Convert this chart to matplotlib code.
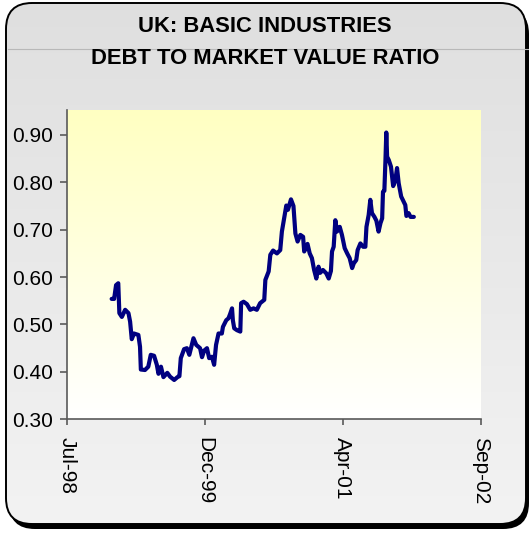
import datetime as dt
import numpy as np
import matplotlib
matplotlib.use("Agg")
import matplotlib.pyplot as plt
import matplotlib.dates as mdates
from matplotlib.patches import FancyBboxPatch
from matplotlib.lines import Line2D

# ---- data -------------------------------------------------------------
title_lines = ["UK: BASIC INDUSTRIES", "DEBT TO MARKET VALUE RATIO"]

obs_dates = [
    "1999-01-02", "1999-01-11", "1999-01-18", "1999-01-26", "1999-01-30",
    "1999-02-08", "1999-02-20", "1999-03-04", "1999-03-10", "1999-03-16",
    "1999-03-24", "1999-04-09", "1999-04-15", "1999-04-18", "1999-05-03",
    "1999-05-15", "1999-05-24", "1999-06-05", "1999-06-15", "1999-06-21",
    "1999-06-30", "1999-07-09", "1999-07-23", "1999-08-02", "1999-08-17",
    "1999-08-29", "1999-09-05", "1999-09-10", "1999-09-22", "1999-10-02",
    "1999-10-11", "1999-10-26", "1999-11-05", "1999-11-19", "1999-11-26",
    "1999-12-04", "1999-12-14", "1999-12-22", "2000-01-01", "2000-01-09",
    "2000-01-16", "2000-01-25", "2000-02-06", "2000-02-10", "2000-02-22",
    "2000-03-01", "2000-03-07", "2000-03-14", "2000-03-17", "2000-03-22",
    "2000-04-01", "2000-04-13", "2000-04-16", "2000-04-25", "2000-05-07",
    "2000-05-19", "2000-05-31", "2000-06-12", "2000-06-24", "2000-07-09",
    "2000-07-13", "2000-07-25", "2000-07-31", "2000-08-10", "2000-08-24",
    "2000-09-05", "2000-09-11", "2000-09-21", "2000-09-27", "2000-10-03",
    "2000-10-14", "2000-10-23", "2000-10-30", "2000-11-07", "2000-11-17",
    "2000-11-27", "2000-12-01", "2000-12-13", "2000-12-21", "2000-12-29",
    "2001-01-06", "2001-01-14", "2001-01-22", "2001-01-28", "2001-02-07",
    "2001-02-19", "2001-02-28", "2001-03-08", "2001-03-12", "2001-03-18",
    "2001-03-24", "2001-03-30", "2001-04-09", "2001-04-17", "2001-04-27",
    "2001-05-06", "2001-05-15", "2001-05-24", "2001-05-30", "2001-06-08",
    "2001-06-13", "2001-06-23", "2001-07-03", "2001-07-11", "2001-07-15",
    "2001-07-23", "2001-07-29", "2001-08-04", "2001-08-13", "2001-08-20",
    "2001-08-28", "2001-09-04", "2001-09-10", "2001-09-13", "2001-09-18",
    "2001-09-22", "2001-09-25", "2001-09-28", "2001-10-04", "2001-10-12",
    "2001-10-20", "2001-10-28", "2001-11-03", "2001-11-09", "2001-11-18",
    "2001-11-27", "2001-12-03", "2001-12-07", "2001-12-15", "2001-12-22",
    "2002-01-03",
]

debt_to_mv = [
    0.554, 0.554, 0.583, 0.587, 0.524,
    0.516, 0.531, 0.524, 0.506, 0.469,
    0.481, 0.478, 0.453, 0.405, 0.404,
    0.411, 0.436, 0.434, 0.415, 0.396,
    0.411, 0.389, 0.398, 0.390, 0.383,
    0.389, 0.391, 0.429, 0.448, 0.450,
    0.436, 0.471, 0.457, 0.450, 0.431,
    0.445, 0.450, 0.429, 0.432, 0.415,
    0.457, 0.481, 0.481, 0.495, 0.509,
    0.513, 0.522, 0.534, 0.509, 0.492,
    0.488, 0.485, 0.545, 0.548, 0.543,
    0.531, 0.534, 0.531, 0.545, 0.552,
    0.594, 0.612, 0.647, 0.656, 0.650,
    0.657, 0.696, 0.731, 0.751, 0.742,
    0.764, 0.750, 0.692, 0.675, 0.689,
    0.685, 0.654, 0.670, 0.650, 0.640,
    0.615, 0.597, 0.622, 0.609, 0.615,
    0.608, 0.597, 0.613, 0.654, 0.664,
    0.720, 0.696, 0.706, 0.689, 0.661,
    0.650, 0.640, 0.619, 0.629, 0.636,
    0.657, 0.671, 0.664, 0.664, 0.706,
    0.731, 0.763, 0.735, 0.727, 0.719,
    0.696, 0.714, 0.724, 0.780, 0.782,
    0.847, 0.905, 0.854, 0.847, 0.833,
    0.792, 0.805, 0.830, 0.798, 0.770,
    0.759, 0.752, 0.729, 0.735, 0.727,
    0.727,
]

y_ticks = [0.30, 0.40, 0.50, 0.60, 0.70, 0.80, 0.90]
x_start = "1998-07-25"
x_step_days = 500
x_tick_count = 4

# ---- figure -----------------------------------------------------------
W, H = 529, 535
DPI = 100
plt.rcParams["font.family"] = ["Liberation Sans", "DejaVu Sans"]

fig = plt.figure(figsize=(W / DPI, H / DPI), dpi=DPI)
fig.patch.set_facecolor("white")

# background layer in pixel coordinates (y grows downward)
bg = fig.add_axes([0, 0, 1, 1])
bg.set_xlim(0, W)
bg.set_ylim(H, 0)
bg.axis("off")

fx0, fy0, fx1, fy1 = 6, 3, 526, 524
radius = 26

shadow = FancyBboxPatch((fx0 + 3, fy0 + 5), fx1 - fx0, fy1 - fy0,
                        boxstyle=f"round,pad=0,rounding_size={radius}",
                        facecolor="black", edgecolor="black", lw=0, zorder=1)
bg.add_patch(shadow)

frame = FancyBboxPatch((fx0, fy0), fx1 - fx0, fy1 - fy0,
                       boxstyle=f"round,pad=0,rounding_size={radius}",
                       facecolor="none", edgecolor="black", lw=1.4, zorder=4)
fill = FancyBboxPatch((fx0, fy0), fx1 - fx0, fy1 - fy0,
                      boxstyle=f"round,pad=0,rounding_size={radius}",
                      facecolor="#e2e2e2", edgecolor="none", zorder=2)
bg.add_patch(fill)

grad = np.linspace(0, 1, 256).reshape(-1, 1)
top_c = np.array([0.875, 0.875, 0.875])
bot_c = np.array([0.953, 0.953, 0.953])
grad_rgb = top_c + (bot_c - top_c) * grad[..., None]
grad_rgb = np.repeat(grad_rgb, 2, axis=1)
im = bg.imshow(grad_rgb, extent=(fx0, fx1, fy1, fy0), aspect="auto",
               interpolation="bilinear", zorder=3)
im.set_clip_path(fill)
bg.add_patch(frame)
bg.set_xlim(0, W)
bg.set_ylim(H, 0)

bg.add_line(Line2D([fx0 + 2, W], [49, 49], color="#b8b8b8", lw=0.8, zorder=5))

for i, line in enumerate(title_lines):
    bg.text(265, 26 + 33 * i, line, ha="center", va="center",
            fontsize=15.8, fontweight="bold", color="black", zorder=6)

# ---- plot area --------------------------------------------------------
left_px, right_px, top_px, bot_px = 67.3, 480.5, 110, 419.3
ax = fig.add_axes([left_px / W, 1 - bot_px / H,
                   (right_px - left_px) / W, (bot_px - top_px) / H])
ax.set_facecolor("none")

yel = np.linspace(0, 1, 256).reshape(-1, 1)
c_top = np.array([1.0, 1.0, 0.76])
c_bot = np.array([1.0, 1.0, 1.0])
yel_rgb = c_top + (c_bot - c_top) * yel[..., None]
yel_rgb = np.repeat(yel_rgb, 2, axis=1)
ax.imshow(yel_rgb, extent=(0, 1, 0, 1), transform=ax.transAxes,
          aspect="auto", interpolation="bilinear", zorder=0)

dates = [dt.datetime.strptime(d, "%Y-%m-%d") for d in obs_dates]
ax.plot(dates, debt_to_mv, color="#000080", lw=3.0,
        solid_joinstyle="round", solid_capstyle="round", zorder=3)

start = dt.datetime.strptime(x_start, "%Y-%m-%d")
x_ticks = [start + dt.timedelta(days=x_step_days * k) for k in range(x_tick_count)]
ax.set_xlim(x_ticks[0], x_ticks[-1])
ax.set_xticks(x_ticks)
ax.xaxis.set_major_formatter(mdates.DateFormatter("%b-%y"))
ax.set_ylim(0.30, 0.9525)
ax.set_yticks(y_ticks)
ax.set_yticklabels([f"{v:.2f}" for v in y_ticks])

for side in ("top", "right"):
    ax.spines[side].set_visible(False)
for side in ("left", "bottom"):
    ax.spines[side].set_color("#5a5a5a")
    ax.spines[side].set_linewidth(1.2)

ax.tick_params(axis="y", direction="out", length=5, width=1.2,
               color="#5a5a5a", pad=5.5, labelsize=15, labelcolor="black")
ax.tick_params(axis="x", direction="out", length=4.5, width=1.2,
               color="#5a5a5a", pad=8, labelsize=15, labelcolor="black",
               labelrotation=-90)
for lab in ax.get_xticklabels():
    lab.set_ha("center")
    lab.set_va("top")

fig.savefig("out.png", dpi=DPI, facecolor="white")
